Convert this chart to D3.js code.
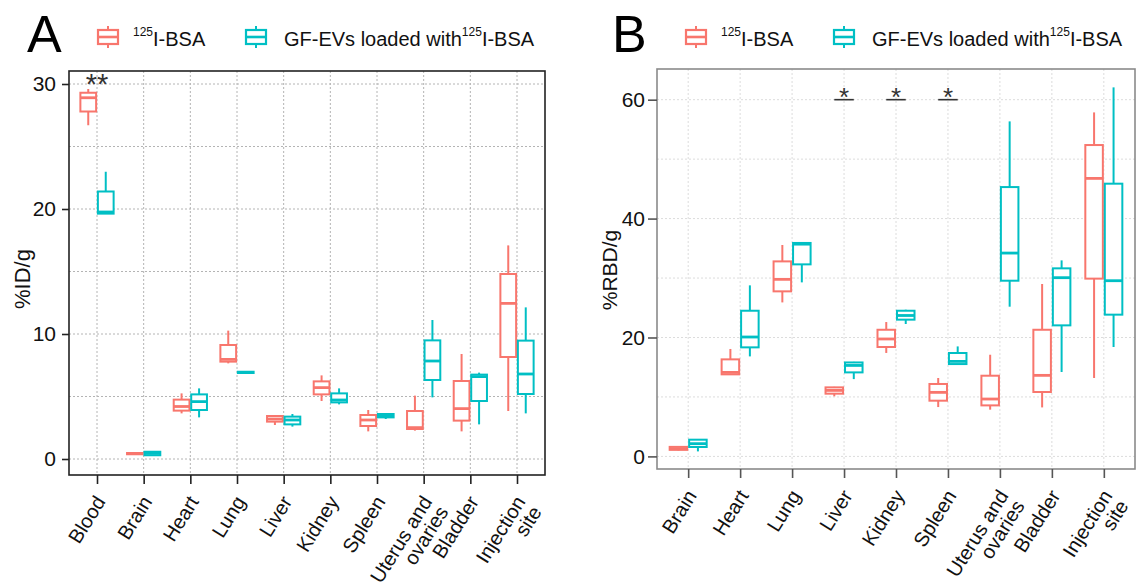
<!DOCTYPE html>
<html>
<head>
<meta charset="utf-8">
<script src="https://cdn.jsdelivr.net/npm/d3@7"></script>
<style>
  body { margin: 0; background: #fff; }
  svg { display: block; }
</style>
</head>
<body>
<svg id="chart" width="1144" height="585"></svg>
<script>
// categories
var organsA = ["Blood", "Brain", "Heart", "Lung", "Liver", "Kidney", "Spleen", "Uterus and\novaries", "Bladder", "Injection\nsite"];
var organsB = ["Brain", "Heart", "Lung", "Liver", "Kidney", "Spleen", "Uterus and\novaries", "Bladder", "Injection\nsite"];

// box stats: [lower whisker, q1, median, q3, upper whisker]
var bsaA = [
  [26.7, 27.8, 28.9, 29.3, 29.6],
  [0.35, 0.38, 0.43, 0.48, 0.5],
  [3.65, 3.87, 4.2, 4.75, 5.25],
  [7.65, 7.79, 7.97, 9.12, 10.27],
  [2.72, 2.99, 3.2, 3.44, 3.5],
  [4.64, 5.17, 5.71, 6.21, 6.69],
  [2.21, 2.64, 3.12, 3.52, 3.92],
  [2.27, 2.4, 2.51, 3.84, 5.07],
  [2.21, 3.07, 4.03, 6.24, 8.4],
  [3.84, 8.16, 12.45, 14.8, 17.09]
];
var evsA = [
  [19.6, 19.63, 19.76, 21.4, 22.98],
  [0.24, 0.3, 0.45, 0.58, 0.6],
  [3.33, 3.92, 4.59, 5.17, 5.65],
  [6.85, 6.88, 6.93, 6.98, 7.0],
  [2.59, 2.77, 3.12, 3.39, 3.6],
  [4.37, 4.53, 4.72, 5.25, 5.65],
  [3.2, 3.33, 3.47, 3.6, 3.62],
  [4.93, 6.32, 7.84, 9.49, 11.12],
  [2.77, 4.64, 6.59, 6.75, 6.91],
  [3.65, 5.2, 6.8, 9.47, 12.13]
];
var bsaB = [
  [1.0, 1.1, 1.3, 1.6, 1.7],
  [13.7, 13.8, 14.13, 16.32, 18.07],
  [25.9, 27.76, 29.78, 32.8, 35.56],
  [10.1, 10.55, 11.1, 11.61, 11.7],
  [17.4, 18.4, 19.75, 21.3, 22.6],
  [8.3, 9.37, 10.77, 12.18, 13.19],
  [7.86, 8.58, 9.65, 13.57, 17.1],
  [8.24, 10.83, 13.63, 21.3, 29.0],
  [13.19, 29.9, 46.76, 52.37, 57.86]
];
var evsB = [
  [0.84, 1.58, 2.14, 2.81, 2.9],
  [16.82, 18.34, 20.08, 24.5, 28.77],
  [29.27, 32.3, 35.7, 35.9, 35.95],
  [13.0, 14.13, 15.3, 15.8, 15.9],
  [22.27, 23.0, 23.7, 24.5, 24.67],
  [15.5, 15.53, 15.98, 17.39, 18.5],
  [25.18, 29.55, 34.2, 45.3, 56.35],
  [14.2, 22.04, 30.06, 31.63, 32.97],
  [18.4, 23.84, 29.55, 45.87, 62.07]
];

// axis ticks
var ticksA = [0, 10, 20, 30], minorA = [5, 15, 25];
var ticksB = [0, 20, 40, 60], minorB = [10, 30, 50];

// significance marks
var starsA = [{organ: "Blood", label: "**", value: 30}];
var starsB = [{organ: "Liver", label: "*", value: 60}, {organ: "Kidney", label: "*", value: 60}, {organ: "Spleen", label: "*", value: 60}];

var colors = ["#F8766D", "#00BFC4"];
var font = "'Liberation Sans', Arial, Helvetica, sans-serif";

var svg = d3.select("#chart").style("font-family", font);

function panel(o) {
    var g = svg.append("g");
    var x = d3.scalePoint().domain(o.organs).range([o.left, o.right]).padding(0.6);
    var y = d3.scaleLinear().domain(o.domain).range([o.bottom, o.top]);
    var step = x.step();

    // grid
    var grid = g.append("g")
        .attr("stroke", o.gridColor)
        .attr("stroke-width", 1)
        .attr("stroke-dasharray", "2,2");
    grid.selectAll(".h")
        .data(o.ticks.concat(o.minor))
        .join("line")
        .attr("x1", o.left).attr("x2", o.right)
        .attr("y1", d => y(d)).attr("y2", d => y(d));
    grid.selectAll(".v")
        .data(o.organs)
        .join("line")
        .attr("x1", d => x(d)).attr("x2", d => x(d))
        .attr("y1", o.top).attr("y2", o.bottom);

    // boxes
    var boxW = 0.3375 * step;
    [o.red, o.cyan].forEach(function(series, s) {
        var off = (s === 0 ? -1 : 1) * 0.1875 * step;
        var bg = g.append("g")
            .attr("stroke", colors[s])
            .attr("fill", "#fff");
        var b = bg.selectAll("g")
            .data(series.map((d, i) => ({organ: o.organs[i], v: d})))
            .join("g");
        b.append("line")
            .attr("x1", d => x(d.organ) + off).attr("x2", d => x(d.organ) + off)
            .attr("y1", d => y(d.v[4])).attr("y2", d => y(d.v[3]))
            .attr("stroke-width", 2);
        b.append("line")
            .attr("x1", d => x(d.organ) + off).attr("x2", d => x(d.organ) + off)
            .attr("y1", d => y(d.v[1])).attr("y2", d => y(d.v[0]))
            .attr("stroke-width", 2);
        b.append("rect")
            .attr("x", d => x(d.organ) + off - boxW / 2)
            .attr("width", boxW)
            .attr("y", d => y(d.v[3]))
            .attr("height", d => Math.max(0.5, y(d.v[1]) - y(d.v[3])))
            .attr("stroke-width", 2);
        b.append("line")
            .attr("x1", d => x(d.organ) + off - boxW / 2).attr("x2", d => x(d.organ) + off + boxW / 2)
            .attr("y1", d => y(d.v[2])).attr("y2", d => y(d.v[2]))
            .attr("stroke-width", 2.8);
    });

    // significance
    var st = g.append("g");
    if (o.starLine) {
        st.selectAll("line")
            .data(o.stars)
            .join("line")
            .attr("x1", d => x(d.organ) - 0.1875 * step).attr("x2", d => x(d.organ) + 0.1875 * step)
            .attr("y1", d => y(d.value)).attr("y2", d => y(d.value))
            .attr("stroke", "#333").attr("stroke-width", 1.6);
    }
    st.selectAll("text")
        .data(o.stars)
        .join("text")
        .attr("x", d => x(d.organ))
        .attr("y", d => y(d.value) + o.starDy)
        .attr("text-anchor", "middle")
        .attr("fill", "#333")
        .style("font-size", o.starSize + "px")
        .text(d => d.label);

    // border
    g.append("rect")
        .attr("x", o.left).attr("y", o.top)
        .attr("width", o.right - o.left).attr("height", o.bottom - o.top)
        .attr("fill", "none")
        .attr("stroke", o.borderColor)
        .attr("stroke-width", 1.6);

    // y axis
    var ya = g.append("g")
        .attr("transform", `translate(${o.left},0)`)
        .call(d3.axisLeft(y).tickValues(o.ticks).tickSize(o.tickLen).tickPadding(o.yPad));
    ya.select(".domain").remove();
    ya.selectAll(".tick line").attr("stroke", o.tickColor).attr("stroke-width", 1.6);
    ya.selectAll(".tick text")
        .attr("fill", "#111")
        .style("font-family", font)
        .style("font-size", "21px");

    // x axis
    var xa = g.append("g")
        .attr("transform", `translate(0,${o.bottom})`)
        .call(d3.axisBottom(x).tickSize(9).tickFormat(""));
    xa.select(".domain").remove();
    xa.selectAll(".tick line").attr("stroke", o.tickColor).attr("stroke-width", 1.6);

    var lab = g.append("g");
    lab.selectAll("text")
        .data(o.organs)
        .join("text")
        .attr("transform", d => `translate(${x(d) - 3},${o.bottom + 19}) rotate(-58)`)
        .attr("text-anchor", "end")
        .attr("fill", "#111")
        .style("font-size", "20px")
        .each(function(d) {
            var t = d3.select(this);
            d.split("\n").forEach(function(line, i) {
                t.append("tspan")
                    .attr("x", 0)
                    .attr("dy", i === 0 ? "0.72em" : "0.95em")
                    .text(line);
            });
        });

    // y title
    g.append("text")
        .attr("transform", `translate(${o.titleX},${o.titleY}) rotate(-90)`)
        .attr("text-anchor", "middle")
        .attr("fill", "#111")
        .style("font-size", o.titleSize + "px")
        .text(o.title);

    // panel letter
    g.append("text")
        .attr("x", o.left - o.letterOff)
        .attr("y", 52)
        .style("font-size", "52px")
        .attr("fill", "#000")
        .text(o.letter);

    // legend
    var keys = [
        {dx: 39, tx: 64, pre: "", color: colors[0]},
        {dx: 187, tx: 215, pre: "GF-EVs loaded with", color: colors[1]}
    ];
    var lg = g.append("g");
    keys.forEach(function(k) {
        var cx = o.left + k.dx, cy = 37;
        lg.append("line")
            .attr("x1", cx).attr("x2", cx)
            .attr("y1", cy - 11).attr("y2", cy + 11)
            .attr("stroke", k.color).attr("stroke-width", 2);
        lg.append("rect")
            .attr("x", cx - 10).attr("y", cy - 7)
            .attr("width", 20).attr("height", 14)
            .attr("fill", "#fff")
            .attr("stroke", k.color).attr("stroke-width", 2.2);
        lg.append("line")
            .attr("x1", cx - 10).attr("x2", cx + 10)
            .attr("y1", cy).attr("y2", cy)
            .attr("stroke", k.color).attr("stroke-width", 2.6);
        var t = lg.append("text")
            .attr("x", o.left + k.tx)
            .attr("y", 46)
            .attr("fill", "#111")
            .style("font-size", "20px");
        if (k.pre) t.append("tspan").text(k.pre);
        t.append("tspan").attr("dy", -10).style("font-size", "12px").text("125");
        t.append("tspan").attr("dy", 10).text("I-BSA");
    });
}

panel({
    organs: organsA, red: bsaA, cyan: evsA,
    left: 69, right: 545, top: 71, bottom: 475,
    domain: [-1.28, 31.04], ticks: ticksA, minor: minorA,
    gridColor: "#b4b4b4", borderColor: "#222", tickColor: "#222",
    tickLen: 7, yPad: 6,
    stars: starsA, starLine: false, starSize: 29, starDy: 10,
    title: "%ID/g", titleX: 30, titleY: 279, titleSize: 22, letter: "A", letterOff: 42
});

panel({
    organs: organsB, red: bsaB, cyan: evsB,
    left: 657, right: 1135, top: 69, bottom: 469,
    domain: [-2.12, 65.16], ticks: ticksB, minor: minorB,
    gridColor: "#dcdcdc", borderColor: "#8a8a8a", tickColor: "#555",
    tickLen: 9, yPad: 3,
    stars: starsB, starLine: true, starSize: 26, starDy: 6,
    title: "%RBD/g", titleX: 617, titleY: 270, titleSize: 21, letter: "B", letterOff: 45
});
</script>
</body>
</html>
